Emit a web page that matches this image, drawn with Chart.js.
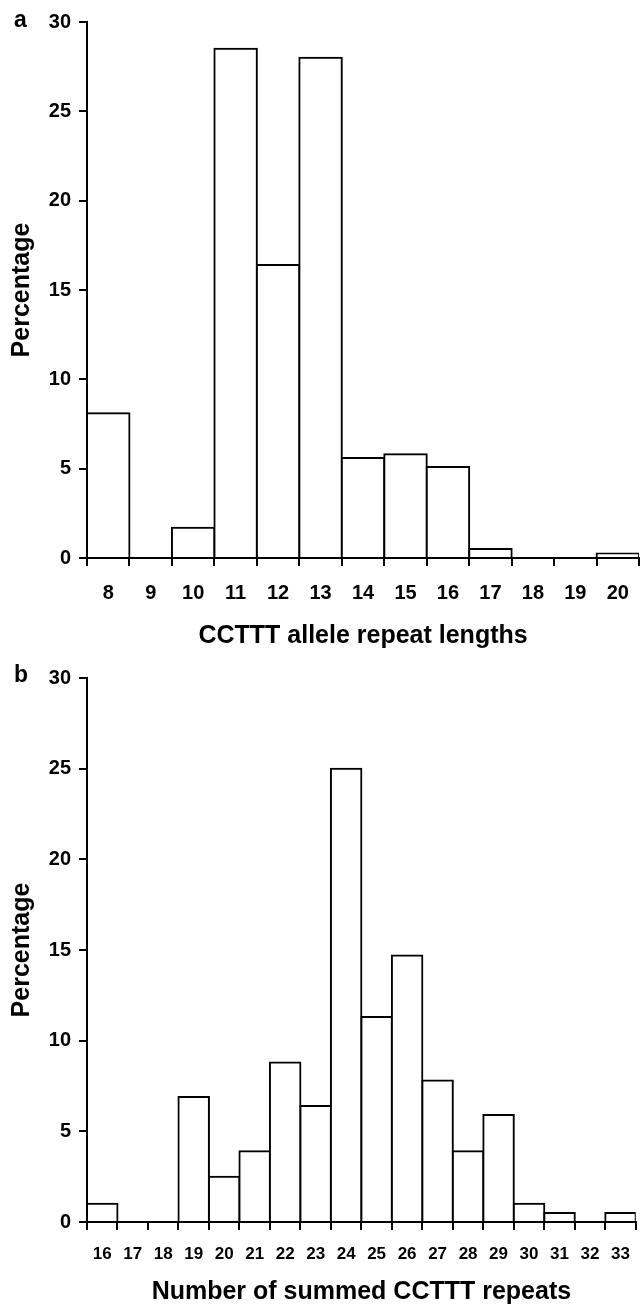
<!DOCTYPE html>
<html>
<head>
<meta charset="utf-8">
<script src="https://cdn.jsdelivr.net/npm/chart.js@4"></script>
<style>
  html, body { margin: 0; padding: 0; background: #fff; }
  body { width: 644px; height: 1305px; position: relative; overflow: hidden; font-family: "Liberation Sans", Arial, sans-serif; }
  .panel { position: absolute; left: 0; width: 644px; }
  .tag { position: absolute; left: 14px; font-weight: bold; font-size: 23px; color: #000; line-height: 1; }
</style>
</head>
<body>
<div class="panel" style="top:0;height:652px"><canvas id="chartA" width="644" height="652"></canvas></div>
<div class="panel" style="top:652px;height:653px"><canvas id="chartB" width="644" height="653"></canvas></div>
<div class="tag" style="top:8px">a</div>
<div class="tag" style="top:663px">b</div>
<script>
// panel a: allele repeat lengths
const alleleLengths = ['8', '9', '10', '11', '12', '13', '14', '15', '16', '17', '18', '19', '20'];
const allelePct = [8.1, 0, 1.7, 28.5, 16.4, 28.0, 5.6, 5.8, 5.1, 0.5, 0, 0, 0.25];

// panel b: summed repeats
const summedRepeats = ['16', '17', '18', '19', '20', '21', '22', '23', '24', '25', '26', '27', '28', '29', '30', '31', '32', '33'];
const summedPct = [1.0, 0, 0, 6.9, 2.5, 3.9, 8.8, 6.4, 25.0, 11.3, 14.7, 7.8, 3.9, 5.9, 1.0, 0.5, 0, 0.5];

const yMin = 0;
const yMax = 30;
const yStep = 5;

const FONT = '"Liberation Sans", Arial, sans-serif';

function makeHistogram(id, labels, values, cfg) {
    const ctx = document.getElementById(id).getContext('2d');
    return new Chart(ctx, {
        type: 'bar',
        data: {
            labels: labels,
            datasets: [{
                data: values,
                backgroundColor: '#fff',
                borderColor: '#000',
                borderWidth: 2,
                inflateAmount: 1,
                categoryPercentage: 1.0,
                barPercentage: 1.0
            }]
        },
        options: {
            responsive: false,
            animation: false,
            layout: { padding: { top: cfg.padTop, right: 1, left: 0, bottom: 0 } },
            plugins: {
                legend: { display: false },
                tooltip: { enabled: false }
            },
            scales: {
                x: {
                    z: 1,
                    afterFit: s => { s.height = cfg.xHeight; },
                    grid: {
                        drawOnChartArea: false,
                        drawTicks: true,
                        tickLength: 8,
                        color: '#000',
                        lineWidth: 2
                    },
                    border: { display: true, color: '#000', width: 2 },
                    ticks: {
                        color: '#000',
                        padding: cfg.tickPad,
                        maxRotation: 0,
                        autoSkip: false,
                        font: { family: FONT, size: cfg.tickSize, weight: 'bold' }
                    },
                    title: {
                        display: true,
                        text: cfg.xTitle,
                        color: '#000',
                        padding: { top: 0, bottom: cfg.titlePad },
                        font: { family: FONT, size: 25, weight: 'bold', lineHeight: 1.0 }
                    }
                },
                y: {
                    z: 1,
                    min: yMin,
                    max: yMax,
                    afterFit: s => { s.width = 87; },
                    grid: {
                        drawOnChartArea: false,
                        drawTicks: true,
                        tickLength: 8,
                        color: '#000',
                        lineWidth: 2
                    },
                    border: { display: true, color: '#000', width: 2 },
                    ticks: {
                        stepSize: yStep,
                        color: '#000',
                        padding: 8,
                        font: { family: FONT, size: 20, weight: 'bold' }
                    },
                    title: {
                        display: true,
                        text: 'Percentage',
                        color: '#000',
                        padding: { top: 10, bottom: 0 },
                        font: { family: FONT, size: 25, weight: 'bold', lineHeight: 1.0 }
                    }
                }
            }
        }
    });
}

makeHistogram('chartA', alleleLengths, allelePct, {
    xTitle: 'CCTTT allele repeat lengths',
    padTop: 22,
    xHeight: 94,
    tickSize: 20,
    tickPad: 15,
    titlePad: 3
});

makeHistogram('chartB', summedRepeats, summedPct, {
    xTitle: 'Number of summed CCTTT repeats',
    padTop: 26,
    xHeight: 83,
    tickSize: 17,
    tickPad: 14,
    titlePad: 0
});
</script>
</body>
</html>
